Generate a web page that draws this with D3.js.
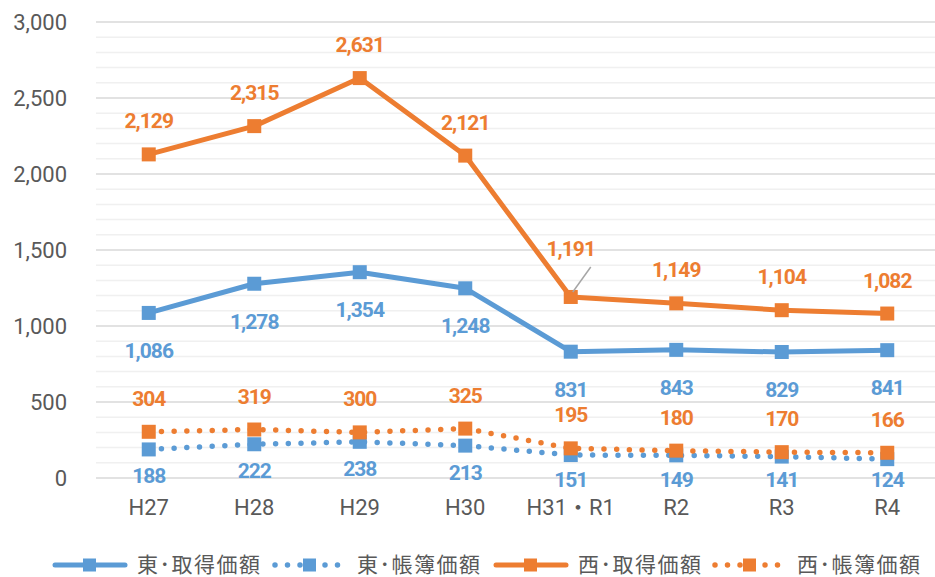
<!DOCTYPE html>
<html>
<head>
<meta charset="utf-8">
<script src="https://cdn.jsdelivr.net/npm/d3@7"></script>
<style>
  body { margin: 0; background: #fff; }
  svg { display: block; font-family: "Noto Sans CJK JP", "Noto Sans", sans-serif; }
</style>
</head>
<body>
<svg id="chart"></svg>
<script>
const years = ["H27", "H28", "H29", "H30", "H31・R1", "R2", "R3", "R4"]
const eastAcq = [1086, 1278, 1354, 1248, 831, 843, 829, 841]
const eastBook = [188, 222, 238, 213, 151, 149, 141, 124]
const westAcq = [2129, 2315, 2631, 2121, 1191, 1149, 1104, 1082]
const westBook = [304, 319, 300, 325, 195, 180, 170, 166]
const yTicks = [0, 500, 1000, 1500, 2000, 2500, 3000]

const blue = "#5B9BD5", orange = "#ED7D31"

const width = 935, height = 577
const svg = d3.select("#chart").attr("width", width).attr("height", height)

const x = d3.scaleBand().domain(years).range([96, 940])
const y = d3.scaleLinear().domain([0, 3000]).range([478, 22])
const cx = d => x(d) + x.bandwidth() / 2

// minor gridlines
svg.append("g")
  .selectAll("line")
  .data(d3.range(100, 3000, 100).filter(v => v % 500 !== 0))
  .join("line")
  .attr("x1", 96).attr("x2", 935)
  .attr("y1", d => y(d)).attr("y2", d => y(d))
  .attr("stroke", "#F0F0F0").attr("stroke-width", 1.5)

// major gridlines
svg.append("g")
  .selectAll("line")
  .data(yTicks)
  .join("line")
  .attr("x1", 96).attr("x2", 935)
  .attr("y1", d => y(d)).attr("y2", d => y(d))
  .attr("stroke", "#D9D9D9").attr("stroke-width", 1.5)

// y axis labels
const yAxis = svg.append("g")
  .attr("transform", "translate(67,0)")
  .call(d3.axisLeft(y).tickValues(yTicks).tickSize(0).tickPadding(0).tickFormat(d3.format(",")))
yAxis.select(".domain").remove()
yAxis.selectAll("text")
  .attr("fill", "#595959").attr("font-size", 22)
  .attr("font-family", "Roboto, sans-serif")

// x axis labels
const xAxis = svg.append("g")
  .attr("transform", "translate(0,507)")
  .call(d3.axisBottom(x).tickSize(0).tickPadding(0))
xAxis.select(".domain").remove()
xAxis.selectAll("text")
  .attr("fill", "#595959").attr("font-size", 22)
  .attr("font-family", "Roboto, 'Noto Sans CJK JP', sans-serif")
  .attr("dy", "0.35em")

const line = d3.line().x((d, i) => cx(years[i])).y(d => y(d))

const series = [
  { name: "東･取得価額", values: eastAcq, color: blue, dotted: false },
  { name: "東･帳簿価額", values: eastBook, color: blue, dotted: true },
  { name: "西･取得価額", values: westAcq, color: orange, dotted: false },
  { name: "西･帳簿価額", values: westBook, color: orange, dotted: true }
]

series.forEach(s => {
  const g = svg.append("g")
  g.append("path")
    .attr("d", line(s.values))
    .attr("fill", "none")
    .attr("stroke", s.color)
    .attr("stroke-width", s.dotted ? 5.5 : 5)
    .attr("stroke-linecap", "round")
    .attr("stroke-linejoin", "round")
    .attr("stroke-dasharray", s.dotted ? "0 12.7" : null)
  g.selectAll("rect")
    .data(s.values)
    .join("rect")
    .attr("x", (d, i) => cx(years[i]) - 7)
    .attr("y", d => y(d) - 7)
    .attr("width", 14).attr("height", 14)
    .attr("fill", s.color)
})

// data label baselines
const labelY = (s, d, i) => {
  if (s.values === westAcq) return i === 4 ? y(d) - 41 : y(d) - 26
  if (s.values === westBook) return y(d) - 26
  if (s.values === eastAcq) return y(d) + 45
  return Math.min(y(d) + 34, 487)
}

series.forEach(s => {
  svg.append("g")
    .selectAll("text")
    .data(s.values)
    .join("text")
    .attr("x", (d, i) => cx(years[i]))
    .attr("y", (d, i) => labelY(s, d, i))
    .attr("text-anchor", "middle")
    .attr("fill", s.color)
    .attr("font-size", 21)
    .attr("font-weight", "bold")
    .attr("font-family", "Roboto, sans-serif")
    .attr("letter-spacing", -1)
    .text(d => d3.format(",")(d))
})

// leader line for 1,191
svg.append("line")
  .attr("x1", cx(years[4]) + 2).attr("y1", y(westAcq[4]) - 5)
  .attr("x2", cx(years[4]) + 20).attr("y2", y(westAcq[4]) - 30)
  .attr("stroke", "#A6A6A6").attr("stroke-width", 1.5)

// legend
const legendX = [52, 272, 493, 712]
const legend = svg.append("g").attr("transform", "translate(0,565)")
series.forEach((s, i) => {
  const lg = legend.append("g").attr("transform", `translate(${legendX[i]},0)`)
  lg.append("line")
    .attr("x1", 3).attr("x2", 73)
    .attr("y1", 0).attr("y2", 0)
    .attr("stroke", s.color)
    .attr("stroke-width", s.dotted ? 5.5 : 5)
    .attr("stroke-linecap", "round")
    .attr("stroke-dasharray", s.dotted ? "0 12.5" : null)
  lg.append("rect")
    .attr("x", 31).attr("y", -6.5)
    .attr("width", 13).attr("height", 13)
    .attr("fill", s.color)
  lg.append("text")
    .attr("x", 85).attr("y", 0)
    .attr("dy", "0.35em")
    .attr("fill", "#595959")
    .attr("font-size", 21)
    .attr("letter-spacing", 1.5)
    .text(s.name)
})
</script>
</body>
</html>
